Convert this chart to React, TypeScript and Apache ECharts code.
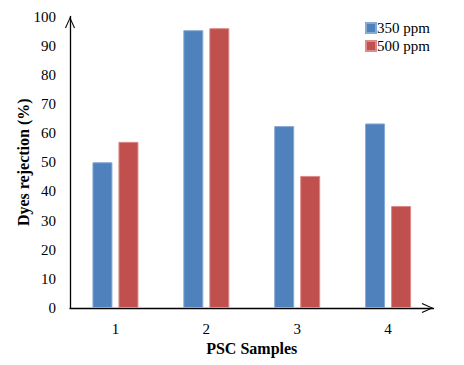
import React, { useEffect, useRef } from "react";
import * as echarts from "echarts";

const categories = ["1", "2", "3", "4"];
const series350 = [50, 95.3, 62.4, 63.3];
const series500 = [57, 96, 45.3, 35];
const seriesNames = ["350 ppm", "500 ppm"];
const yTicks = { min: 0, max: 100, interval: 10 };

const ARROW = "path://M0,11 L5,0 L10,11 L9,11.6 L5,2.3 L1,11.6 Z";
const FONT = "Liberation Serif";

export default function App() {
  const ref = useRef<HTMLDivElement>(null);
  useEffect(() => {
    if (!ref.current) return;
    const chart = echarts.init(ref.current, null, { renderer: "svg" });
    chart.setOption({
      animation: false,
      backgroundColor: "#fff",
      textStyle: { fontFamily: FONT },
      grid: { left: 70, right: 30.5, top: 16.5, bottom: 57, containLabel: false },
      legend: {
        orient: "vertical",
        left: 365,
        top: 20.5,
        padding: 0,
        itemWidth: 10,
        itemHeight: 10,
        itemGap: 3,
        icon: "rect",
        textStyle: { fontFamily: FONT, fontSize: 15, lineHeight: 15, color: "#000", padding: [0, 0, 0, -4] },
        data: seriesNames,
      },
      xAxis: {
        type: "category",
        data: categories,
        name: "PSC Samples",
        nameLocation: "middle",
        nameGap: 32,
        nameMoveOverlap: false,
        nameTextStyle: { fontFamily: FONT, fontSize: 16, fontWeight: "bold", color: "#000" },
        axisLine: {
          lineStyle: { color: "#000", width: 1.3 },
          symbol: ["none", ARROW],
          symbolSize: [10, 12],
          symbolOffset: [0, -6],
        },
        axisTick: { show: false },
        axisLabel: { fontFamily: FONT, fontSize: 15, color: "#000", margin: 13 },
      },
      yAxis: {
        type: "value",
        min: yTicks.min,
        max: yTicks.max,
        interval: yTicks.interval,
        name: "Dyes rejection (%)",
        nameLocation: "middle",
        nameGap: 39,
        nameMoveOverlap: false,
        nameTextStyle: { fontFamily: FONT, fontSize: 16, fontWeight: "bold", color: "#000" },
        axisLine: {
          show: true,
          lineStyle: { color: "#000", width: 1.3 },
          symbol: ["none", ARROW],
          symbolSize: [10, 12],
          symbolOffset: [0, -6],
        },
        axisTick: { show: false },
        splitLine: { show: false },
        axisLabel: { fontFamily: FONT, fontSize: 15, color: "#000", margin: 14 },
      },
      series: [
        {
          name: seriesNames[0],
          type: "bar",
          data: series350,
          barWidth: 20,
          barGap: "30%",
          itemStyle: { color: "#4F81BD", borderColor: "#86a9d6", borderWidth: 1 },
        },
        {
          name: seriesNames[1],
          type: "bar",
          data: series500,
          barWidth: 20,
          barGap: "30%",
          itemStyle: { color: "#C0504D", borderColor: "#dd8a88", borderWidth: 1 },
        },
      ],
    });
    return () => chart.dispose();
  }, []);
  return <div ref={ref} style={{ width: 464, height: 365, position: "absolute", left: 0, top: 0 }} />;
}
